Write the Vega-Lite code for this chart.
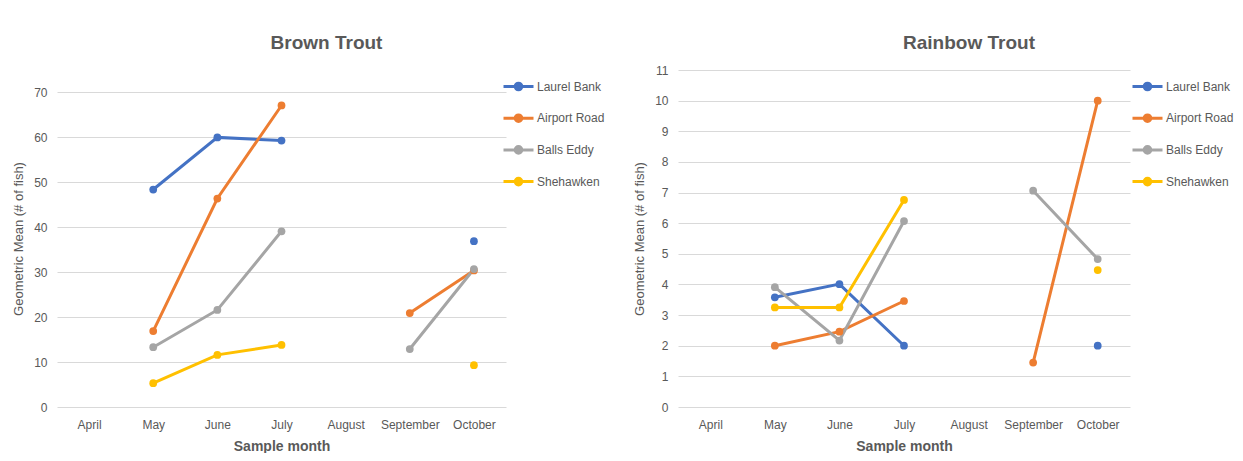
{
  "$schema": "https://vega.github.io/schema/vega-lite/v6.json",
  "background": "white",
  "padding": {"left": 12, "top": 34, "right": 0, "bottom": 0},
  "datasets": {
    "fish": [
      {"species": "Brown Trout", "site": "Laurel Bank", "month": "May", "value": 48.4},
      {"species": "Brown Trout", "site": "Laurel Bank", "month": "June", "value": 60.0},
      {"species": "Brown Trout", "site": "Laurel Bank", "month": "July", "value": 59.3},
      {"species": "Brown Trout", "site": "Laurel Bank", "month": "August", "value": null},
      {"species": "Brown Trout", "site": "Laurel Bank", "month": "September", "value": null},
      {"species": "Brown Trout", "site": "Laurel Bank", "month": "October", "value": 36.9},
      {"species": "Brown Trout", "site": "Airport Road", "month": "May", "value": 16.9},
      {"species": "Brown Trout", "site": "Airport Road", "month": "June", "value": 46.4},
      {"species": "Brown Trout", "site": "Airport Road", "month": "July", "value": 67.1},
      {"species": "Brown Trout", "site": "Airport Road", "month": "August", "value": null},
      {"species": "Brown Trout", "site": "Airport Road", "month": "September", "value": 20.9},
      {"species": "Brown Trout", "site": "Airport Road", "month": "October", "value": 30.4},
      {"species": "Brown Trout", "site": "Balls Eddy", "month": "May", "value": 13.3},
      {"species": "Brown Trout", "site": "Balls Eddy", "month": "June", "value": 21.6},
      {"species": "Brown Trout", "site": "Balls Eddy", "month": "July", "value": 39.1},
      {"species": "Brown Trout", "site": "Balls Eddy", "month": "August", "value": null},
      {"species": "Brown Trout", "site": "Balls Eddy", "month": "September", "value": 12.9},
      {"species": "Brown Trout", "site": "Balls Eddy", "month": "October", "value": 30.7},
      {"species": "Brown Trout", "site": "Shehawken", "month": "May", "value": 5.3},
      {"species": "Brown Trout", "site": "Shehawken", "month": "June", "value": 11.6},
      {"species": "Brown Trout", "site": "Shehawken", "month": "July", "value": 13.8},
      {"species": "Brown Trout", "site": "Shehawken", "month": "August", "value": null},
      {"species": "Brown Trout", "site": "Shehawken", "month": "September", "value": null},
      {"species": "Brown Trout", "site": "Shehawken", "month": "October", "value": 9.3},
      {"species": "Rainbow Trout", "site": "Laurel Bank", "month": "May", "value": 3.58},
      {"species": "Rainbow Trout", "site": "Laurel Bank", "month": "June", "value": 4.01},
      {"species": "Rainbow Trout", "site": "Laurel Bank", "month": "July", "value": 2.0},
      {"species": "Rainbow Trout", "site": "Laurel Bank", "month": "August", "value": null},
      {"species": "Rainbow Trout", "site": "Laurel Bank", "month": "September", "value": null},
      {"species": "Rainbow Trout", "site": "Laurel Bank", "month": "October", "value": 2.0},
      {"species": "Rainbow Trout", "site": "Airport Road", "month": "May", "value": 2.0},
      {"species": "Rainbow Trout", "site": "Airport Road", "month": "June", "value": 2.46},
      {"species": "Rainbow Trout", "site": "Airport Road", "month": "July", "value": 3.46},
      {"species": "Rainbow Trout", "site": "Airport Road", "month": "August", "value": null},
      {"species": "Rainbow Trout", "site": "Airport Road", "month": "September", "value": 1.45},
      {"species": "Rainbow Trout", "site": "Airport Road", "month": "October", "value": 10.0},
      {"species": "Rainbow Trout", "site": "Balls Eddy", "month": "May", "value": 3.91},
      {"species": "Rainbow Trout", "site": "Balls Eddy", "month": "June", "value": 2.17},
      {"species": "Rainbow Trout", "site": "Balls Eddy", "month": "July", "value": 6.07},
      {"species": "Rainbow Trout", "site": "Balls Eddy", "month": "August", "value": null},
      {"species": "Rainbow Trout", "site": "Balls Eddy", "month": "September", "value": 7.06},
      {"species": "Rainbow Trout", "site": "Balls Eddy", "month": "October", "value": 4.83},
      {"species": "Rainbow Trout", "site": "Shehawken", "month": "May", "value": 3.25},
      {"species": "Rainbow Trout", "site": "Shehawken", "month": "June", "value": 3.25},
      {"species": "Rainbow Trout", "site": "Shehawken", "month": "July", "value": 6.76},
      {"species": "Rainbow Trout", "site": "Shehawken", "month": "August", "value": null},
      {"species": "Rainbow Trout", "site": "Shehawken", "month": "September", "value": null},
      {"species": "Rainbow Trout", "site": "Shehawken", "month": "October", "value": 4.47}
    ]
  },
  "data": {"name": "fish"},
  "spacing": 28,
  "resolve": {"scale": {"color": "independent", "y": "independent", "x": "independent"}, "legend": {"color": "independent"}},
  "hconcat": [
    {
      "title": {"text": "Brown Trout", "dx": 45, "offset": 17},
      "width": 449,
      "height": 337,
      "transform": [{"filter": "datum.species === 'Brown Trout'"}],
      "mark": {"type": "line", "strokeWidth": 3, "invalid": "break-paths-filter-domains", "point": {"filled": true, "size": 60, "opacity": 1}},
      "encoding": {
        "x": {"field": "month", "type": "ordinal", "title": "Sample month",
              "scale": {"domain": ["April", "May", "June", "July", "August", "September", "October"]}},
        "y": {"field": "value", "type": "quantitative", "title": "Geometric Mean (# of fish)",
              "scale": {"domain": [0, 75], "nice": false},
              "axis": {"values": [0, 10, 20, 30, 40, 50, 60, 70]}},
        "color": {"field": "site", "type": "nominal",
                  "scale": {"domain": ["Laurel Bank", "Airport Road", "Balls Eddy", "Shehawken"], "range": ["#4472C4", "#ED7D31", "#A5A5A5", "#FFC000"]},
                  "legend": {"offset": -4}},
        "order": {"value": null}
      }
    },
    {
      "title": {"text": "Rainbow Trout", "dx": 65, "offset": 11},
      "width": 452,
      "height": 337,
      "transform": [{"filter": "datum.species === 'Rainbow Trout'"}],
      "mark": {"type": "line", "strokeWidth": 3, "invalid": "break-paths-filter-domains", "point": {"filled": true, "size": 60, "opacity": 1}},
      "encoding": {
        "x": {"field": "month", "type": "ordinal", "title": "Sample month",
              "scale": {"domain": ["April", "May", "June", "July", "August", "September", "October"]}},
        "y": {"field": "value", "type": "quantitative", "title": "Geometric Mean (# of fish)",
              "scale": {"domain": [0, 11], "nice": false},
              "axis": {"values": [0, 1, 2, 3, 4, 5, 6, 7, 8, 9, 10, 11]}},
        "color": {"field": "site", "type": "nominal",
                  "scale": {"domain": ["Laurel Bank", "Airport Road", "Balls Eddy", "Shehawken"], "range": ["#4472C4", "#ED7D31", "#A5A5A5", "#FFC000"]},
                  "legend": {"offset": 1}},
        "order": {"value": null}
      }
    }
  ],
  "config": {
    "view": {"stroke": null},
    "title": {"font": "Liberation Sans", "fontSize": 19, "fontWeight": "bold", "color": "#595959", "anchor": "middle", "frame": "group"},
    "axis": {"labelFont": "Liberation Sans", "labelFontSize": 12, "labelColor": "#595959", "titleFont": "Liberation Sans", "titleColor": "#595959", "domain": false, "ticks": false, "gridColor": "#D9D9D9", "gridWidth": 1},
    "axisX": {"labelAngle": 0, "labelPadding": 12, "titleFontSize": 14, "titleFontWeight": "bold", "titlePadding": 9, "grid": false},
    "axisY": {"labelPadding": 10, "titleFontSize": 13, "titleFontWeight": "normal", "titlePadding": 8, "grid": true},
    "legend": {"title": null, "orient": "right", "padding": 0, "symbolType": "M-1,0L1,0M-0.22,0A0.22,0.22,0,1,1,0.22,0A0.22,0.22,0,1,1,-0.22,0Z", "symbolSize": 900, "symbolStrokeWidth": 3, "labelFont": "Liberation Sans", "labelFontSize": 12, "labelColor": "#595959", "labelOffset": 2, "rowPadding": 5.7}
  }
}
